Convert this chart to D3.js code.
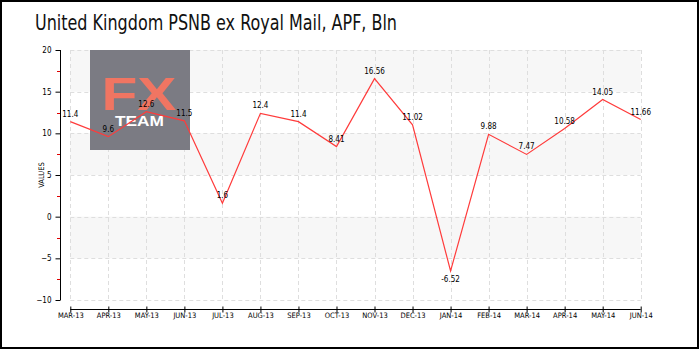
<!DOCTYPE html>
<html><head><meta charset="utf-8">
<script src="https://cdn.jsdelivr.net/npm/d3@7"></script>
<style>body{margin:0;background:#fff}svg{display:block}</style>
</head><body>
<svg id="c" width="700" height="350"></svg>
<script>
const categories = ["MAR-13","APR-13","MAY-13","JUN-13","JUL-13","AUG-13","SEP-13","OCT-13","NOV-13","DEC-13","JAN-14","FEB-14","MAR-14","APR-14","MAY-14","JUN-14"];
const values = [11.4, 9.6, 12.6, 11.5, 1.6, 12.4, 11.4, 8.41, 16.56, 11.02, -6.52, 9.88, 7.47, 10.58, 14.05, 11.66];
const yTicks = [-10, -5, 0, 5, 10, 15, 20];
const yMinor = [-7.5, -2.5, 2.5, 7.5, 12.5, 17.5];
const bands = [[15,20],[5,10],[-5,0]];
const title = "United Kingdom PSNB ex Royal Mail, APF, Bln";

const svg = d3.select("#c");
const font = "'DejaVu Sans Condensed', 'DejaVu Sans', sans-serif";
svg.append("rect").attr("x",1).attr("y",1).attr("width",697).attr("height",347)
  .attr("fill","#fff").attr("stroke","#000").attr("stroke-width",2);

const x = d3.scalePoint().domain(categories).range([70.3, 640.7]);
const y = d3.scaleLinear().domain([-10, 20]).range([300, 50]);

// bands
svg.append("g").selectAll("rect").data(bands).join("rect")
  .attr("x", x.range()[0]).attr("width", x.range()[1]-x.range()[0])
  .attr("y", d=>y(d[1])).attr("height", d=>y(d[0])-y(d[1]))
  .attr("fill","#f7f7f7");

// grid
const g = svg.append("g").attr("stroke","#dedede").attr("stroke-dasharray","4,3").attr("stroke-width",1);
g.selectAll("line.h").data(yTicks).join("line").attr("class","h")
  .attr("x1", x.range()[0]).attr("x2", x.range()[1])
  .attr("y1", d=>Math.round(y(d))+0.5).attr("y2", d=>Math.round(y(d))+0.5);
g.selectAll("line.v").data(categories).join("line").attr("class","v")
  .attr("x1", d=>Math.round(x(d))+0.5).attr("x2", d=>Math.round(x(d))+0.5)
  .attr("y1", y(20)).attr("y2", y(-10));

// watermark
const wm = svg.append("g");
wm.append("rect").attr("x",90).attr("y",50).attr("width",100).attr("height",100).attr("fill","#7b7b83");
wm.append("text").attr("x",101.5).attr("y",110)
  .attr("font-family","'Liberation Sans', Arial, sans-serif").attr("font-weight","bold")
  .attr("font-size",47).attr("fill","#f07562").attr("textLength",75).attr("lengthAdjust","spacingAndGlyphs").text("FX");
wm.append("text").attr("x",115).attr("y",126)
  .attr("font-family","'Liberation Sans', Arial, sans-serif").attr("font-weight","bold")
  .attr("font-size",14).attr("fill","#fff").attr("textLength",49).attr("lengthAdjust","spacingAndGlyphs").text("TEAM");

// y axis
const yAxis = d3.axisLeft(y).tickValues(yTicks).tickSize(5).tickPadding(4).tickFormat(d3.format("d"));
const ya = svg.append("g").attr("transform","translate(60.5,0)").call(yAxis);
ya.select(".domain").attr("stroke","#000").attr("d","M0,"+y(20)+"V"+y(-10));
ya.selectAll("text").attr("font-family",font).attr("font-size",8).attr("fill","#000");
ya.selectAll(".tick line").attr("stroke","#000");
svg.append("g").selectAll("line").data(yMinor).join("line")
  .attr("x1",57).attr("x2",60).attr("y1",d=>Math.round(y(d))+0.5).attr("y2",d=>Math.round(y(d))+0.5)
  .attr("stroke","#e00000");

// x axis
const xAxis = d3.axisBottom(x).tickSize(5).tickPadding(3);
const xa = svg.append("g").attr("transform","translate(0,309.5)").call(xAxis);
xa.select(".domain").attr("stroke","#000").attr("d","M"+x.range()[0]+",0H"+x.range()[1]);
xa.selectAll(".tick line").attr("stroke","#000").attr("y1",-3).attr("y2",3);
xa.selectAll("text").attr("font-family",font).attr("font-size",7.5).attr("fill","#000").attr("dy","0.9em").attr("y",2);

// y label
svg.append("text").attr("transform","translate(44,175) rotate(-90)").attr("text-anchor","middle")
  .attr("font-family",font).attr("font-size",7.5).attr("fill","#000").text("VALUES");

// line
const line = d3.line().x((d,i)=>x(categories[i])).y(d=>y(d));
svg.append("path").datum(values).attr("d",line).attr("fill","none").attr("stroke","#ff3b3b").attr("stroke-width",1.2);

// point labels
svg.append("g").selectAll("text").data(values).join("text")
  .attr("x",(d,i)=>x(categories[i])).attr("y",d=> d < 0 ? y(d)+11 : y(d)-5)
  .attr("text-anchor","middle").attr("font-family",font).attr("font-size",8).attr("fill","#000")
  .text(d=>String(d));

// title
svg.append("text").attr("x",35).attr("y",30).attr("font-family","'DejaVu Sans Condensed', sans-serif")
  .attr("font-size",22).attr("fill","#111").attr("textLength",362).attr("lengthAdjust","spacingAndGlyphs").text(title);
</script>
</body></html>
